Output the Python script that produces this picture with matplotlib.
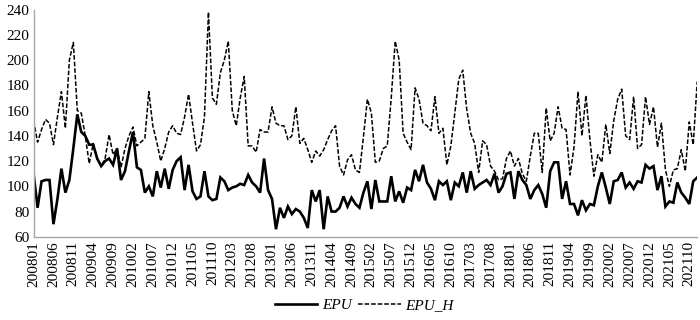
import numpy as np
import matplotlib
matplotlib.use("Agg")
import matplotlib.pyplot as plt
from matplotlib.lines import Line2D

plt.rcParams['font.family'] = ['Liberation Serif', 'DejaVu Serif']

# monthly categories 200801 .. 202112
months = [f"{y}{m:02d}" for y in range(2008, 2022) for m in range(1, 13)]

epu = [110, 83, 104, 105, 105, 70, 90, 114, 95, 105,
       130, 157, 143, 140, 133, 133, 122, 116, 120, 122,
       117, 130, 105, 112, 128, 143, 115, 113, 95, 100,
       92, 112, 99, 114, 98, 113, 120, 123, 97, 117,
       96, 90, 92, 112, 92, 89, 90, 107, 104, 97,
       99, 100, 102, 101, 109, 103, 100, 95, 122, 97,
       90, 66, 83, 75, 84, 78, 82, 80, 75, 67,
       97, 88, 97, 66, 92, 80, 80, 83, 92, 84,
       91, 86, 83, 95, 104, 82, 105, 88, 88, 88,
       108, 88, 96, 87, 99, 97, 113, 104, 117, 103,
       98, 89, 104, 101, 104, 89, 103, 100,
       111, 95, 112, 98, 101, 103, 105, 101, 110, 95,
       100, 110, 111, 90, 112, 105, 101, 90, 97, 101,
       94, 83, 112, 119, 119, 90, 104, 86, 86, 77,
       89, 81, 86, 85, 100, 111, 99, 86, 104, 105,
       111, 99, 103, 98, 104, 103, 117, 114, 116, 97,
       108, 84, 88, 87, 103, 95, 91, 86, 104, 107]

epu_h = [152, 135, 145, 153, 150, 133, 155, 175, 146, 200,
         214, 160, 158, 140, 118, 134, 122, 116, 122, 141,
         125, 130, 115, 130, 140, 147, 132, 135, 138, 175,
         148, 135, 120, 130, 143, 148, 142, 141, 155, 173,
         150, 128, 133, 155, 238, 170, 165, 190, 200, 215,
         160, 148, 170, 187, 132, 132, 127, 145, 143, 143,
         163, 150, 148, 148, 137, 140, 163, 134, 138, 129,
         119, 128, 124, 129, 137, 144, 148, 116, 109, 121,
         125, 113, 111, 139, 169, 158, 119, 120, 130, 132,
         170, 215, 200, 142, 135, 129, 178, 169, 150, 148,
         144, 171, 142, 146, 117, 132, 158, 185,
         192, 161, 142, 134, 111, 136, 133, 116, 112, 105,
         106, 122, 128, 116, 122, 110, 104, 124, 142, 142,
         111, 162, 136, 142, 163, 146, 145, 109, 131, 175,
         140, 172, 137, 108, 125, 119, 149, 126, 152, 169,
         177, 140, 137, 171, 130, 133, 171, 149, 163, 131,
         150, 113, 100, 113, 114, 129, 112, 151, 133, 183]

yticks = [60, 80, 100, 120, 140, 160, 180, 200, 220, 240]

x = np.arange(len(months))

fig = plt.figure(figsize=(7, 3.2), dpi=100)
ax = fig.add_axes([0.048, 0.26, 0.948, 0.71])

ax.plot(x, epu, color='black', lw=1.9, solid_joinstyle='miter')
ax.plot(x, epu_h, color='black', lw=1.1, dashes=(3, 1.3))

ax.set_xlim(0, len(months) - 1)
ax.set_ylim(60, 240)
ax.set_yticks(yticks)
ax.set_xticks(x[::5])
ax.set_xticklabels(months[::5], rotation=90)
ax.tick_params(axis='both', length=0, labelsize=11, pad=3)

for s in ['top', 'right']:
    ax.spines[s].set_visible(False)
for s in ['left', 'bottom']:
    ax.spines[s].set_color('#a6a6a6')
    ax.spines[s].set_linewidth(1.0)

handles = [Line2D([], [], color='black', lw=1.9),
           Line2D([], [], color='black', lw=1.1, dashes=(3, 1.3))]
fig.legend(handles, ['EPU', 'EPU_H'], loc='center', bbox_to_anchor=(0.52, 0.045),
           ncol=2, frameon=False, handlelength=2.8, handletextpad=0.3,
           columnspacing=0.4, prop={'style': 'italic', 'size': 11})

fig.savefig('out.png', dpi=100)
